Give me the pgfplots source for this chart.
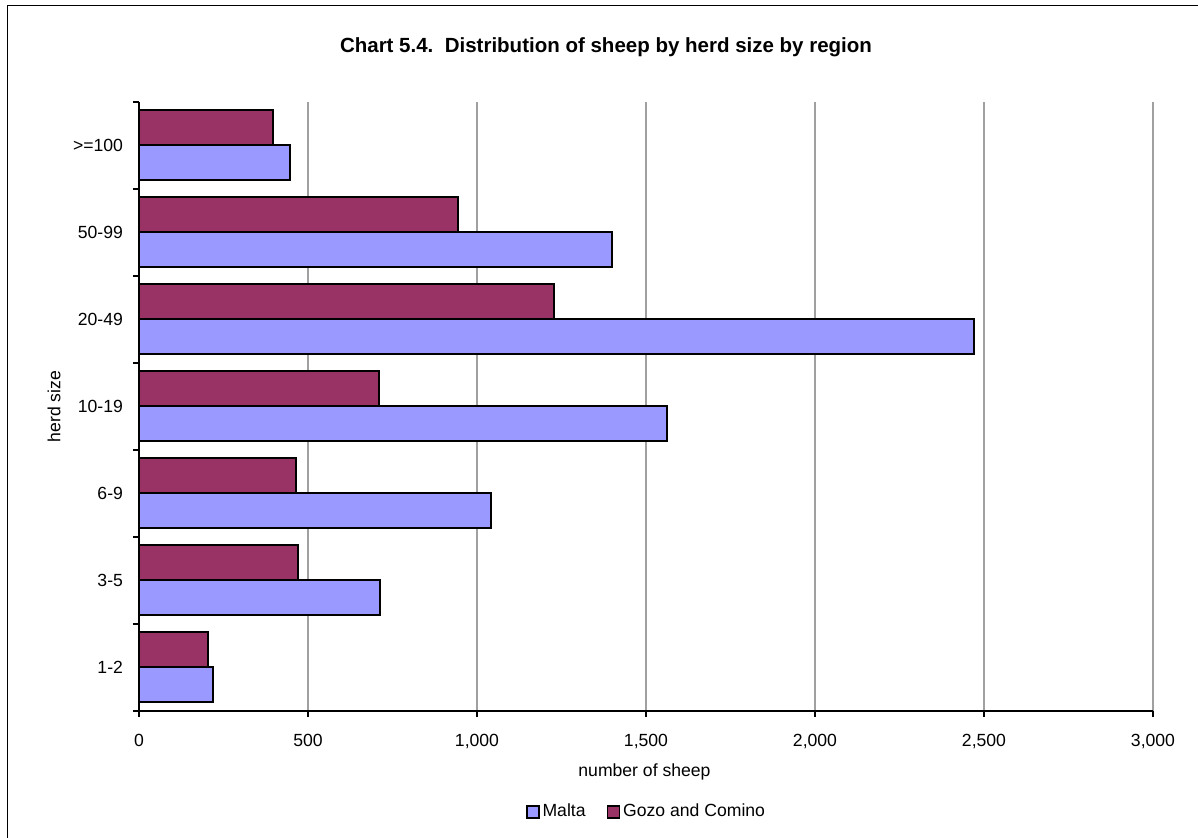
\documentclass[border=0pt]{standalone}
\usepackage{fontspec}
\setmainfont{Liberation Sans}
\usepackage{pgfplots}
\pgfplotsset{compat=1.18}
\definecolor{malta}{HTML}{9999FF}
\definecolor{gozo}{HTML}{993366}
\definecolor{gridgray}{HTML}{A0A0A0}
\newcommand{\fs}{\fontsize{8.8pt}{10pt}\selectfont}
\begin{document}
\begin{tikzpicture}
\useasboundingbox (-69.5pt,-63.5pt) rectangle (529.5pt,355.5pt);
\draw[line width=0.8pt] (-65.65pt,-70pt) -- (-65.65pt,352.65pt) -- (540pt,352.65pt);
\begin{axis}[
  at={(0pt,0pt)}, anchor=south west,
  scale only axis,
  width=507pt, height=304.5pt,
  xbar,
  bar width=17.5pt,
  xmin=0, xmax=3000,
  ymin=-0.5, ymax=6.5,
  axis lines=left,
  axis line style={-, line width=1pt, black},
  xtick={0,500,...,3000},
  xmajorgrids,
  grid style={gridgray, line width=0.8pt},
  ytick={-0.5,0.5,...,6.5},
  yticklabels={},
  extra y ticks={0,1,2,3,4,5,6},
  extra y tick labels={1-2,3-5,6-9,10-19,20-49,50-99,{>=100}},
  extra y tick style={major tick length=0pt, grid=none, yticklabel style={xshift=-4.5pt}},
  tick align=outside,
  tick pos=lower,
  major tick length=3pt,
  tick style={black, line width=1pt},
  /pgf/number format/assume math mode=true,
  /pgf/number format/1000 sep={,},
  scaled x ticks=false,
  tick label style={font=\fs},
  xticklabel style={yshift=-5pt},
  xlabel={number of sheep},
  ylabel={herd size},
  label style={font=\fs},
  xlabel style={at={(axis description cs:0.4985,0)}, anchor=center, yshift=-30.3pt},
  ylabel style={at={(axis description cs:0,0.5)}, anchor=center, rotate=0, yshift=42.5pt},
  legend columns=2,
  legend style={at={(axis description cs:0.501,-0.1654)}, anchor=center, draw=none, fill=none,
    font=\fs, inner sep=0pt,
    /tikz/every even column/.append style={column sep=9pt},
    nodes={inner sep=1.5pt}},
  legend image code/.code={\draw[#1, line width=0.8pt] (0pt,-3pt) rectangle (6pt,3pt);},
  clip=false,
]
\addplot[fill=malta, draw=black, line width=1pt, bar shift=-8.75pt] coordinates {
  (220,0) (713,1) (1041,2) (1563,3) (2470,4) (1400,5) (446,6)};
\addlegendentry{Malta}
\addplot[fill=gozo, draw=black, line width=1pt, bar shift=8.75pt] coordinates {
  (205,0) (470,1) (464,2) (710,3) (1228,4) (944,5) (397,6)};
\addlegendentry{Gozo and Comino}
\end{axis}
\node[font=\fontsize{10.25pt}{12pt}\selectfont\bfseries] at (233.5pt,331.65pt) {Chart 5.4.\ \ Distribution of sheep by herd size by region};
\end{tikzpicture}
\end{document}
